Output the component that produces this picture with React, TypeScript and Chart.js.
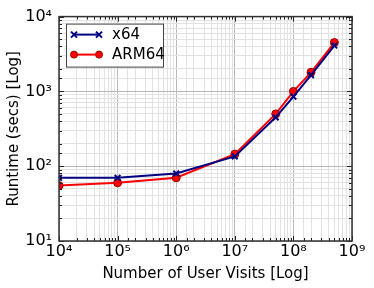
import React, { useEffect, useRef } from "react";
import { Chart, registerables } from "chart.js";

Chart.register(...registerables);

const visits = [1e4, 1e5, 1e6, 1e7, 5e7, 1e8, 2e8, 5e8];
const x64Runtime = [70, 70, 80, 135, 450, 850, 1650, 4100];
const arm64Runtime = [55, 60, 70, 145, 500, 1000, 1800, 4500];
const seriesNames = ["x64", "ARM64"];
const xTitle = "Number of User Visits [Log]";
const yTitle = "Runtime (secs) [Log]";

const SUP: Record<string, string> = { "0": "⁰", "1": "¹", "2": "²", "3": "³", "4": "⁴", "5": "⁵", "6": "⁶", "7": "⁷", "8": "⁸", "9": "⁹" };
const FONT = "'DejaVu Sans', sans-serif";

function isDecade(v: number) {
  const l = Math.log10(v);
  return Math.abs(l - Math.round(l)) < 1e-9;
}
function decadeLabel(v: number) {
  if (!isDecade(v)) return "";
  const e = String(Math.round(Math.log10(v)));
  return "10" + e.split("").map((c) => SUP[c] || c).join("");
}

const framePlugin = {
  id: "frameAndLegend",
  afterDraw(chart: any) {
    const { ctx, chartArea: a, scales } = chart;
    ctx.save();
    // inward tick marks
    ctx.strokeStyle = "#222";
    ctx.lineWidth = 1;
    const xs = scales.x, ys = scales.y;
    xs.ticks.forEach((t: any) => {
      const px = Math.round(xs.getPixelForValue(t.value)) + 0.5;
      const len = isDecade(t.value) ? 5 : 3;
      ctx.beginPath();
      ctx.moveTo(px, a.bottom); ctx.lineTo(px, a.bottom - len);
      ctx.moveTo(px, a.top); ctx.lineTo(px, a.top + len);
      ctx.stroke();
    });
    ys.ticks.forEach((t: any) => {
      const py = Math.round(ys.getPixelForValue(t.value)) + 0.5;
      const len = isDecade(t.value) ? 5 : 3;
      ctx.beginPath();
      ctx.moveTo(a.left, py); ctx.lineTo(a.left + len, py);
      ctx.moveTo(a.right, py); ctx.lineTo(a.right - len, py);
      ctx.stroke();
    });
    // frame
    ctx.strokeStyle = "#333";
    ctx.lineWidth = 1.5;
    ctx.strokeRect(a.left, a.top, a.right - a.left, a.bottom - a.top);

    // legend
    const lx = a.left + 7, ly = a.top + 7, lw = 97, lh = 43;
    ctx.fillStyle = "#fff";
    ctx.fillRect(lx, ly, lw, lh);
    ctx.strokeStyle = "#444";
    ctx.lineWidth = 1;
    ctx.strokeRect(lx + 0.5, ly + 0.5, lw, lh);
    chart.data.datasets.forEach((ds: any, i: number) => {
      const y = ly + 11 + i * 20;
      const x0 = lx + 8, x1 = lx + 33;
      ctx.strokeStyle = ds.borderColor;
      ctx.lineWidth = 2;
      ctx.beginPath(); ctx.moveTo(x0, y); ctx.lineTo(x1, y); ctx.stroke();
      [x0, x1].forEach((mx) => {
        if (ds.pointStyle === "crossRot") {
          ctx.strokeStyle = ds.pointBorderColor;
          ctx.lineWidth = 2;
          ctx.beginPath();
          ctx.moveTo(mx - 3, y - 3); ctx.lineTo(mx + 3, y + 3);
          ctx.moveTo(mx + 3, y - 3); ctx.lineTo(mx - 3, y + 3);
          ctx.stroke();
        } else {
          ctx.fillStyle = ds.pointBackgroundColor;
          ctx.strokeStyle = ds.pointBorderColor;
          ctx.lineWidth = 1;
          ctx.beginPath(); ctx.arc(mx, y, 3.5, 0, Math.PI * 2); ctx.fill(); ctx.stroke();
        }
      });
      ctx.fillStyle = "#000";
      ctx.font = `15px ${FONT}`;
      ctx.textBaseline = "middle";
      ctx.textAlign = "left";
      ctx.fillText(ds.label, lx + 46, y + 1);
    });
    ctx.restore();
  },
};

export default function App() {
  const ref = useRef<HTMLCanvasElement>(null);
  useEffect(() => {
    document.body.style.margin = "0";
    const gridColor = (c: any) =>
      c.tick && isDecade(c.tick.value) ? "#b8b8b8" : "#e2e2e2";
    const chart = new Chart(ref.current!, {
      type: "line",
      data: {
        datasets: [
          {
            label: seriesNames[0],
            data: visits.map((v, i) => ({ x: v, y: x64Runtime[i] })),
            borderColor: "#000080",
            backgroundColor: "#000080",
            pointStyle: "crossRot",
            pointBorderColor: "#000080",
            pointBackgroundColor: "#000080",
            pointRadius: 4,
            pointBorderWidth: 2,
            borderWidth: 2,
            tension: 0,
          },
          {
            label: seriesNames[1],
            data: visits.map((v, i) => ({ x: v, y: arm64Runtime[i] })),
            borderColor: "#ff0000",
            backgroundColor: "#ff0000",
            pointStyle: "circle",
            pointBorderColor: "#990000",
            pointBackgroundColor: "#ff0000",
            pointRadius: 4,
            pointBorderWidth: 1,
            borderWidth: 2,
            tension: 0,
          },
        ],
      },
      options: {
        responsive: false,
        animation: false,
        devicePixelRatio: 1,
        layout: { padding: { top: 15, right: 22, left: 0, bottom: 0 } },
        plugins: { legend: { display: false }, tooltip: { enabled: false } },
        scales: {
          x: {
            type: "logarithmic",
            min: 1e4,
            max: 1e9,
            afterFit: (s: any) => { s.height = 47; },
            grid: { color: gridColor, drawTicks: false, lineWidth: 1 },
            border: { display: false },
            ticks: {
              autoSkip: false,
              maxRotation: 0,
              padding: 1,
              color: "#000",
              font: { family: FONT, size: 16 },
              callback: (v: any) => decadeLabel(Number(v)),
            },
            title: {
              display: true,
              text: xTitle,
              color: "#000",
              font: { family: FONT, size: 15 },
              padding: { top: 0, bottom: 5 },
            },
          },
          y: {
            type: "logarithmic",
            min: 10,
            max: 1e4,
            afterFit: (s: any) => { s.width = 59; },
            grid: { color: gridColor, drawTicks: false, lineWidth: 1 },
            border: { display: false },
            ticks: {
              autoSkip: false,
              padding: 7,
              color: "#000",
              font: { family: FONT, size: 16 },
              callback: (v: any) => decadeLabel(Number(v)),
            },
            title: {
              display: true,
              text: yTitle,
              color: "#000",
              font: { family: FONT, size: 15 },
              padding: { top: 5, bottom: 0 },
            },
          },
        },
      },
      plugins: [framePlugin],
    } as any);
    return () => chart.destroy();
  }, []);
  return (
    <div style={{ width: 374, height: 288 }}>
      <canvas ref={ref} width={374} height={288} />
    </div>
  );
}
